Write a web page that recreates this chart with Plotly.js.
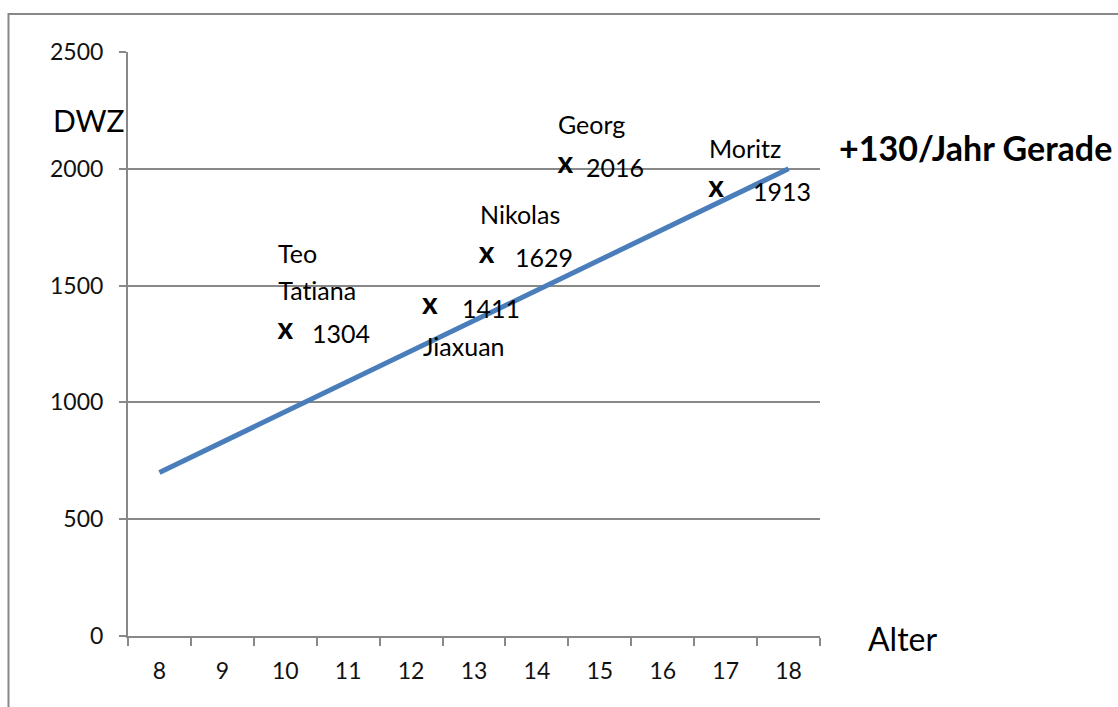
<!DOCTYPE html>
<html>
<head>
<meta charset="utf-8">
<script src="https://cdn.plot.ly/plotly-3.0.1.min.js"></script>
<style>
  html, body { margin: 0; padding: 0; background: #fff; }
  #chart { width: 1118px; height: 707px; }
  #chart text { font-variant-ligatures: none; font-feature-settings: "liga" 0, "dlig" 0; }
</style>
</head>
<body>
<div id="chart"></div>
<script>
// ---- data ----
const ageTicks = [8, 9, 10, 11, 12, 13, 14, 15, 16, 17, 18];
const dwzTicks = [0, 500, 1000, 1500, 2000, 2500];

const playerNames = [['Teo', 'Tatiana'], ['Jiaxuan'], ['Nikolas'], ['Georg'], ['Moritz']];
const playerAges = [10, 12.3, 13.2, 14.45, 16.85];
const playerDWZ = [1304, 1411, 1629, 2016, 1913];

const trendAges = [8, 18];
const trendDWZ = [700, 2000];
const trendLabel = '+130/Jahr Gerade';

// ---- styling (pixel offsets, not data) ----
const FONT = 'Lato, "Open Sans", sans-serif';
const numberGap = [25, 30, 26, 19, 35];        // px from mark centre to number
const nameBelow = [false, true, false, false, false];
const labelSize = 25;

const annotations = [];
playerNames.forEach((lines, i) => {
  annotations.push({
    x: playerAges[i], y: playerDWZ[i], xref: 'x', yref: 'y',
    text: String(playerDWZ[i]), showarrow: false,
    xanchor: 'left', yanchor: 'middle', xshift: numberGap[i], yshift: -2,
    font: {family: FONT, size: labelSize, color: '#000'}
  });
  lines.forEach((nm, j) => {
    const k = lines.length - 1 - j;
    const dy = nameBelow[i] ? -40 : 41 + 37 * k;
    annotations.push({
      x: playerAges[i], y: playerDWZ[i], xref: 'x', yref: 'y',
      text: nm, showarrow: false,
      xanchor: 'left', yanchor: 'middle', xshift: -9, yshift: dy,
      font: {family: FONT, size: labelSize, color: '#000'}
    });
  });
});

annotations.push({
  xref: 'paper', yref: 'paper', x: -0.002, y: 0.8836,
  xanchor: 'right', yanchor: 'middle', showarrow: false,
  text: 'DWZ', font: {family: FONT, size: 30, color: '#000'}
});
annotations.push({
  xref: 'paper', yref: 'paper', x: 1.066, y: -0.004,
  xanchor: 'left', yanchor: 'middle', showarrow: false,
  text: 'Alter', font: {family: FONT, size: 32, color: '#000'}
});
annotations.push({
  xref: 'paper', yref: 'paper', x: 1.024, y: 0.8373,
  xanchor: 'left', yanchor: 'middle', showarrow: false,
  text: '<b>' + trendLabel + '</b>', font: {family: FONT, size: 34, color: '#000'}
});

const traces = [
  {
    type: 'scatter', mode: 'text',
    x: playerAges, y: playerDWZ,
    text: playerAges.map(() => '<b>x</b>'),
    textposition: 'middle center',
    textfont: {family: FONT, size: 30, color: '#000'},
    hoverinfo: 'skip', showlegend: false
  },
  {
    type: 'scatter', mode: 'lines',
    x: trendAges, y: trendDWZ,
    line: {color: '#4A7EBB', width: 5},
    hoverinfo: 'skip', showlegend: false
  }
];

const layout = {
  width: 1118, height: 707,
  margin: {l: 128, r: 298, t: 52, b: 71, pad: 0},
  paper_bgcolor: '#fff', plot_bgcolor: '#fff',
  showlegend: false,
  font: {family: FONT, color: '#000'},
  xaxis: {
    range: [7.5, 18.5],
    tickmode: 'array', tickvals: ageTicks, ticktext: ageTicks.map(String),
    ticks: '', showgrid: false, zeroline: false,
    showline: true, linecolor: '#888', linewidth: 2,
    ticklabelstandoff: 13,
    tickfont: {family: FONT, size: 23, color: '#111'},
    minor: {tick0: 7.5, dtick: 1, ticks: 'outside', ticklen: 8, tickwidth: 2, tickcolor: '#888', showgrid: false},
    fixedrange: true
  },
  yaxis: {
    range: [0, 2500],
    tickmode: 'array', tickvals: dwzTicks, ticktext: dwzTicks.map(String),
    ticks: 'outside', ticklen: 7, tickwidth: 2, tickcolor: '#888',
    showgrid: true, gridcolor: '#888', gridwidth: 2,
    zeroline: false,
    showline: true, linecolor: '#888', linewidth: 2,
    ticklabelstandoff: 11,
    tickfont: {family: FONT, size: 23, color: '#111'},
    fixedrange: true
  },
  shapes: [{
    type: 'rect', xref: 'paper', yref: 'paper',
    x0: -0.1727, x1: 2, y0: -1, y1: 1.065,
    line: {color: '#888', width: 2}, fillcolor: 'rgba(0,0,0,0)', layer: 'below'
  }],
  annotations: annotations
};

Plotly.newPlot('chart', traces, layout, {displayModeBar: false, staticPlot: true});
</script>
</body>
</html>
